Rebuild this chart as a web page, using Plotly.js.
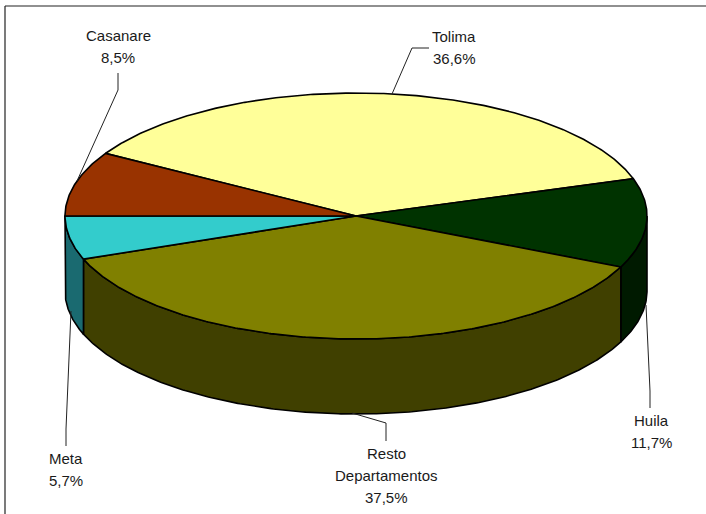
<!DOCTYPE html>
<html>
<head>
<meta charset="utf-8">
<script src="https://cdn.plot.ly/plotly-3.0.1.min.js"></script>
<style>html,body{margin:0;padding:0;background:#fff}#c{width:706px;height:514px}</style>
</head>
<body>
<div id="c"></div>
<script>
// Data, clockwise from the Tolima slice
const categories = ['Tolima', 'Huila', 'Resto Departamentos', 'Meta', 'Casanare'];
const shares = [36.6, 11.7, 37.5, 5.7, 8.5];
const topColors = ['#FFFF99', '#003300', '#808000', '#33CCCC', '#993300'];
const wallColors = ['#808050', '#001A00', '#404000', '#1A6A70', '#4D1A00'];
const labelLines = [['Tolima'], ['Huila'], ['Resto', 'Departamentos'], ['Meta'], ['Casanare']];
const labelX = [454, 651, 386, 66, 118];
const labelY = [36, 420, 453, 458, 35];
const lineStep = 22;
const leaders = [
  [[429, 48], [412, 48], [392, 94]],
  [[650, 408], [650, 391], [646, 305]],
  [[386, 441], [386, 423], [352, 413]],
  [[66, 446], [66, 429], [71, 311]],
  [[118, 73], [118, 90], [77, 181]]
];

// Pie projection
const cx = 356, cy = 216, rx = 291, ry = 123, depth = 75;
const total = shares.reduce((a, b) => a + b, 0);
// Casanare, the last slice clockwise, ends at the left-most point (180 deg)
const first = 180 - shares[shares.length - 1] / total * 360;

function pt(deg, dy) {
  const t = deg * Math.PI / 180;
  return [cx + rx * Math.cos(t), cy - ry * Math.sin(t) + (dy || 0)];
}
function arc(a, b, dy) {
  const n = Math.max(2, Math.ceil(Math.abs(a - b) * 2));
  const out = [];
  for (let i = 0; i <= n; i++) out.push(pt(a + (b - a) * i / n, dy));
  return out;
}
function poly(points, fill) {
  return {
    x: points.map(p => p[0]), y: points.map(p => p[1]),
    type: 'scatter', mode: 'lines', fill: 'toself', fillcolor: fill,
    line: {color: '#000', width: 1.6}, hoverinfo: 'skip', showlegend: false
  };
}

const walls = [], tops = [];
let a = first;
shares.forEach((s, i) => {
  const b = a - s / total * 360;
  // front-facing part of the rim lies where the angle is in (-180, 0), mod 360
  [[0, -180], [-360, -540]].forEach(([hi, lo]) => {
    const from = Math.min(a, hi), to = Math.max(b, lo);
    if (from > to) {
      const pts = arc(from, to, 0).concat(arc(to, from, depth));
      pts.push(pts[0]);
      walls.push(poly(pts, wallColors[i]));
    }
  });
  const pts = [[cx, cy]].concat(arc(a, b, 0));
  pts.push([cx, cy]);
  tops.push(poly(pts, topColors[i]));
  a = b;
});

const leaderTraces = leaders.map(l => ({
  x: l.map(p => p[0]), y: l.map(p => p[1]),
  type: 'scatter', mode: 'lines', line: {color: '#222', width: 1},
  hoverinfo: 'skip', showlegend: false
}));

const annotations = [];
const font = {family: 'Liberation Sans, Arial, sans-serif', size: 15, color: '#1a1a1a'};
categories.forEach((c, i) => {
  const lines = labelLines[i].concat([shares[i].toFixed(1).replace('.', ',') + '%']);
  lines.forEach((t, k) => annotations.push({
    x: labelX[i], y: labelY[i] + k * lineStep, text: t, showarrow: false,
    xanchor: 'center', yanchor: 'middle', font
  }));
});

const frame = [
  {type: 'line', x0: 5, x1: 5, y0: 6, y1: 514, line: {color: '#222', width: 1.2}},
  {type: 'line', x0: 5, x1: 706, y0: 6, y1: 6, line: {color: '#222', width: 1.2}}
];

Plotly.newPlot('c', walls.concat(tops, leaderTraces), {
  width: 706, height: 514,
  margin: {l: 0, r: 0, t: 0, b: 0},
  paper_bgcolor: '#fff', plot_bgcolor: '#fff',
  xaxis: {range: [0, 706], visible: false, fixedrange: true},
  yaxis: {range: [514, 0], visible: false, fixedrange: true},
  annotations, shapes: frame, showlegend: false
}, {displayModeBar: false, staticPlot: true});
</script>
</body>
</html>
